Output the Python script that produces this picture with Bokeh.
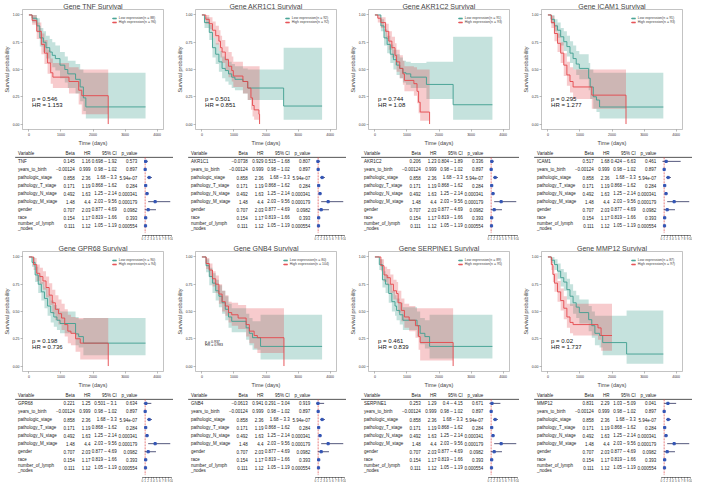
from bokeh.plotting import figure
from bokeh.layouts import row, column
from bokeh.models import (Range1d, Label, Legend, LegendItem, LinearAxis, FixedTicker,
                          ColumnDataSource, NumeralTickFormatter)
from bokeh.embed import file_html
from bokeh.resources import INLINE
from bokeh.core.properties import value

# ------------------------------------------------------------------ data
X_TICKS = [0, 1000, 2000, 3000, 4000]
Y_TICKS = [0, 0.25, 0.5, 0.75, 1.0]
FOREST_TICKS = [0, 1, 2, 3, 4, 5, 6, 7, 8, 9, 10]

GENES = ["TNF", "AKR1C1", "AKR1C2", "ICAM1", "GPR68", "GNB4", "SERPINE1", "MMP12"]
N_LOW = [88, 92, 91, 91, 90, 80, 89, 87]
N_HIGH = [96, 92, 93, 93, 94, 104, 95, 97]
LOGRANK_P = [0.546, 0.501, 0.744, 0.295, 0.198, 0.937, 0.461, 0.02]
KM_HR = [1.153, 0.851, 1.08, 1.277, 0.736, 0.983, 0.839, 1.737]

# Kaplan-Meier curves (time in days, survival, lower CI, upper CI)
TNF_LOW_T = [0, 100, 250, 340, 450, 534, 650, 728, 825, 970, 1120, 1214, 1456, 1600, 1700, 1777, 3640]
TNF_LOW_S = [1.0, 0.97, 0.9, 0.79, 0.75, 0.70, 0.66, 0.63, 0.60, 0.54, 0.50, 0.46, 0.41, 0.34, 0.24, 0.157, 0.157]
TNF_LOW_LO = [1.0, 0.93, 0.84, 0.71, 0.66, 0.60, 0.56, 0.52, 0.49, 0.42, 0.38, 0.33, 0.28, 0.21, 0.12, 0.05, 0.05]
TNF_LOW_HI = [1.0, 1.0, 0.97, 0.88, 0.85, 0.81, 0.78, 0.75, 0.72, 0.66, 0.62, 0.58, 0.55, 0.50, 0.47, 0.47, 0.47]
TNF_HIGH_T = [0, 100, 243, 388, 485, 583, 680, 748, 1250, 1553, 1650, 2475]
TNF_HIGH_S = [1.0, 0.95, 0.85, 0.73, 0.65, 0.56, 0.47, 0.43, 0.39, 0.31, 0.26, 0.0]
TNF_HIGH_LO = [1.0, 0.91, 0.78, 0.64, 0.55, 0.46, 0.37, 0.33, 0.28, 0.18, 0.09, 0.0]
TNF_HIGH_HI = [1.0, 1.0, 0.93, 0.83, 0.77, 0.68, 0.60, 0.56, 0.52, 0.50, 0.50, 0.0]

AKR1C1_LOW_T = [0, 80, 230, 330, 430, 530, 630, 730, 830, 930, 1030, 1280, 1430, 2550, 3750]
AKR1C1_LOW_S = [1.0, 0.93, 0.84, 0.70, 0.64, 0.57, 0.51, 0.49, 0.46, 0.43, 0.41, 0.39, 0.33, 0.165, 0.165]
AKR1C1_LOW_LO = [1.0, 0.88, 0.77, 0.61, 0.55, 0.48, 0.42, 0.39, 0.36, 0.33, 0.31, 0.28, 0.22, 0.04, 0.04]
AKR1C1_LOW_HI = [1.0, 0.98, 0.91, 0.79, 0.74, 0.67, 0.62, 0.60, 0.57, 0.55, 0.53, 0.51, 0.50, 0.70, 0.70]
AKR1C1_HIGH_T = [0, 120, 230, 330, 430, 530, 580, 630, 730, 830, 930, 980, 1280, 1430, 1530, 1580, 1630, 1780, 1800]
AKR1C1_HIGH_S = [1.0, 0.96, 0.92, 0.86, 0.81, 0.76, 0.70, 0.66, 0.59, 0.53, 0.49, 0.44, 0.39, 0.33, 0.24, 0.17, 0.13, 0.09, 0.0]
AKR1C1_HIGH_LO = [1.0, 0.92, 0.87, 0.79, 0.73, 0.67, 0.61, 0.56, 0.49, 0.43, 0.39, 0.34, 0.28, 0.22, 0.13, 0.07, 0.04, 0.02, 0.0]
AKR1C1_HIGH_HI = [1.0, 1.0, 0.98, 0.94, 0.90, 0.86, 0.81, 0.77, 0.71, 0.66, 0.62, 0.57, 0.53, 0.53, 0.53, 0.53, 0.53, 0.53, 0.0]

AKR1C2_LOW_T = [0, 186, 284, 382, 480, 578, 676, 775, 873, 970, 1118, 1608, 2441, 3667]
AKR1C2_LOW_S = [1.0, 0.90, 0.79, 0.73, 0.64, 0.59, 0.54, 0.51, 0.47, 0.46, 0.43, 0.363, 0.177, 0.177]
AKR1C2_LOW_LO = [1.0, 0.85, 0.72, 0.65, 0.56, 0.50, 0.45, 0.42, 0.38, 0.36, 0.33, 0.23, 0.04, 0.04]
AKR1C2_LOW_HI = [1.0, 0.96, 0.87, 0.81, 0.73, 0.68, 0.64, 0.61, 0.58, 0.57, 0.56, 0.57, 0.80, 0.80]
AKR1C2_HIGH_T = [0, 90, 186, 333, 431, 529, 627, 676, 775, 873, 921, 1216, 1314, 1363, 1412, 1706]
AKR1C2_HIGH_S = [1.0, 0.97, 0.93, 0.85, 0.76, 0.70, 0.63, 0.57, 0.51, 0.46, 0.40, 0.37, 0.30, 0.20, 0.11, 0.0]
AKR1C2_HIGH_LO = [1.0, 0.93, 0.88, 0.78, 0.68, 0.61, 0.54, 0.48, 0.42, 0.36, 0.30, 0.26, 0.19, 0.10, 0.03, 0.0]
AKR1C2_HIGH_HI = [1.0, 1.0, 0.98, 0.92, 0.85, 0.80, 0.74, 0.68, 0.63, 0.58, 0.53, 0.52, 0.50, 0.50, 0.50, 0.0]

ICAM1_LOW_T = [0, 100, 204, 300, 398, 495, 592, 689, 786, 883, 980, 1272, 1320, 1417, 1515, 1612, 3602]
ICAM1_LOW_S = [1.0, 0.96, 0.90, 0.86, 0.80, 0.755, 0.71, 0.65, 0.60, 0.55, 0.51, 0.42, 0.34, 0.25, 0.22, 0.156, 0.156]
ICAM1_LOW_LO = [1.0, 0.92, 0.85, 0.79, 0.72, 0.67, 0.62, 0.56, 0.50, 0.45, 0.41, 0.31, 0.23, 0.14, 0.11, 0.05, 0.05]
ICAM1_LOW_HI = [1.0, 1.0, 0.96, 0.93, 0.88, 0.85, 0.81, 0.76, 0.72, 0.67, 0.64, 0.56, 0.50, 0.47, 0.47, 0.47, 0.47]
ICAM1_HIGH_T = [0, 107, 204, 300, 398, 495, 592, 689, 786, 1369, 2437]
ICAM1_HIGH_S = [1.0, 0.93, 0.83, 0.74, 0.65, 0.54, 0.45, 0.39, 0.34, 0.265, 0.0]
ICAM1_HIGH_LO = [1.0, 0.88, 0.76, 0.66, 0.56, 0.44, 0.35, 0.29, 0.23, 0.14, 0.0]
ICAM1_HIGH_HI = [1.0, 0.99, 0.91, 0.83, 0.75, 0.65, 0.57, 0.52, 0.50, 0.50, 0.0]

GPR68_LOW_T = [0, 97, 194, 291, 388, 485, 583, 680, 777, 874, 971, 1456, 1553, 1700, 3640]
GPR68_LOW_S = [1.0, 0.95, 0.835, 0.75, 0.68, 0.62, 0.55, 0.49, 0.45, 0.42, 0.39, 0.295, 0.27, 0.21, 0.21]
GPR68_LOW_LO = [1.0, 0.91, 0.77, 0.67, 0.60, 0.53, 0.46, 0.40, 0.36, 0.33, 0.30, 0.19, 0.17, 0.10, 0.10]
GPR68_LOW_HI = [1.0, 1.0, 0.91, 0.83, 0.77, 0.72, 0.65, 0.60, 0.56, 0.53, 0.50, 0.45, 0.43, 0.44, 0.44]
GPR68_HIGH_T = [0, 146, 243, 340, 437, 534, 631, 728, 825, 922, 1019, 1117, 1214, 1311, 1456, 1602, 2476]
GPR68_HIGH_S = [1.0, 0.93, 0.85, 0.82, 0.78, 0.72, 0.65, 0.58, 0.52, 0.48, 0.44, 0.38, 0.32, 0.30, 0.25, 0.21, 0.0]
GPR68_HIGH_LO = [1.0, 0.88, 0.78, 0.75, 0.70, 0.63, 0.56, 0.48, 0.42, 0.38, 0.33, 0.27, 0.21, 0.19, 0.13, 0.06, 0.0]
GPR68_HIGH_HI = [1.0, 0.99, 0.93, 0.90, 0.87, 0.82, 0.76, 0.70, 0.65, 0.61, 0.57, 0.52, 0.47, 0.45, 0.44, 0.44, 0.0]

GNB4_LOW_T = [0, 130, 230, 330, 430, 530, 630, 730, 830, 930, 1380, 1480, 1580, 1830, 3750]
GNB4_LOW_S = [1.0, 0.92, 0.82, 0.76, 0.69, 0.64, 0.58, 0.52, 0.45, 0.41, 0.35, 0.30, 0.26, 0.18, 0.18]
GNB4_LOW_LO = [1.0, 0.86, 0.74, 0.67, 0.60, 0.54, 0.48, 0.42, 0.35, 0.31, 0.24, 0.19, 0.15, 0.06, 0.06]
GNB4_LOW_HI = [1.0, 0.98, 0.90, 0.85, 0.79, 0.74, 0.69, 0.64, 0.57, 0.53, 0.48, 0.44, 0.41, 0.47, 0.47]
GNB4_HIGH_T = [0, 130, 230, 330, 430, 530, 630, 730, 830, 930, 1130, 1380, 1480, 1630, 1730, 2560]
GNB4_HIGH_S = [1.0, 0.94, 0.88, 0.80, 0.75, 0.66, 0.59, 0.55, 0.49, 0.47, 0.44, 0.38, 0.32, 0.28, 0.26, 0.0]
GNB4_HIGH_LO = [1.0, 0.89, 0.82, 0.73, 0.67, 0.57, 0.50, 0.46, 0.40, 0.37, 0.34, 0.27, 0.21, 0.16, 0.12, 0.0]
GNB4_HIGH_HI = [1.0, 0.99, 0.94, 0.87, 0.83, 0.75, 0.69, 0.65, 0.59, 0.58, 0.56, 0.53, 0.53, 0.53, 0.53, 0.0]

SERPINE1_LOW_T = [0, 137, 235, 333, 431, 529, 627, 676, 775, 873, 1314, 1412, 1559, 1706, 3667]
SERPINE1_LOW_S = [1.0, 0.93, 0.79, 0.75, 0.665, 0.59, 0.55, 0.51, 0.47, 0.42, 0.37, 0.30, 0.27, 0.18, 0.18]
SERPINE1_LOW_LO = [1.0, 0.88, 0.72, 0.67, 0.58, 0.50, 0.46, 0.42, 0.38, 0.33, 0.27, 0.20, 0.16, 0.07, 0.07]
SERPINE1_LOW_HI = [1.0, 0.98, 0.87, 0.83, 0.75, 0.69, 0.65, 0.62, 0.58, 0.54, 0.50, 0.44, 0.42, 0.47, 0.47]
SERPINE1_HIGH_T = [0, 186, 284, 382, 480, 578, 676, 725, 824, 921, 1069, 1265, 1363, 1412, 2441]
SERPINE1_HIGH_S = [1.0, 0.92, 0.835, 0.81, 0.75, 0.69, 0.665, 0.58, 0.51, 0.45, 0.42, 0.37, 0.27, 0.216, 0.0]
SERPINE1_HIGH_LO = [1.0, 0.87, 0.77, 0.74, 0.67, 0.61, 0.58, 0.49, 0.41, 0.35, 0.32, 0.26, 0.15, 0.05, 0.0]
SERPINE1_HIGH_HI = [1.0, 0.98, 0.91, 0.89, 0.84, 0.79, 0.77, 0.69, 0.62, 0.57, 0.55, 0.53, 0.53, 0.53, 0.0]

MMP12_LOW_T = [0, 107, 204, 300, 398, 495, 592, 689, 786, 883, 980, 1272, 1369, 1466, 1612, 1709, 2456, 3602]
MMP12_LOW_S = [1.0, 0.97, 0.93, 0.87, 0.81, 0.77, 0.70, 0.64, 0.58, 0.54, 0.49, 0.425, 0.37, 0.30, 0.28, 0.215, 0.11, 0.11]
MMP12_LOW_LO = [1.0, 0.94, 0.88, 0.80, 0.73, 0.69, 0.61, 0.55, 0.48, 0.44, 0.39, 0.32, 0.26, 0.19, 0.17, 0.10, 0.02, 0.02]
MMP12_LOW_HI = [1.0, 1.0, 0.98, 0.94, 0.89, 0.86, 0.80, 0.75, 0.69, 0.65, 0.61, 0.55, 0.50, 0.46, 0.46, 0.46, 0.51, 0.51]
MMP12_HIGH_T = [0, 107, 155, 204, 300, 398, 495, 592, 689, 786, 1563, 1660, 2000]
MMP12_HIGH_S = [1.0, 0.93, 0.84, 0.76, 0.68, 0.60, 0.53, 0.45, 0.40, 0.38, 0.35, 0.28, 0.28]
MMP12_HIGH_LO = [1.0, 0.88, 0.77, 0.68, 0.59, 0.51, 0.43, 0.35, 0.30, 0.28, 0.24, 0.14, 0.14]
MMP12_HIGH_HI = [1.0, 0.99, 0.92, 0.85, 0.78, 0.71, 0.64, 0.57, 0.57, 0.57, 0.57, 0.57, 0.57]

# Cox regression tables
COV_NAMES = ["years_to_birth", "pathologic_stage", "pathology_T_stage", "pathology_N_stage",
             "pathology_M_stage", "gender", "race", "number_of_lymph\n_nodes"]
COV_BETA = [-0.00124, 0.858, 0.171, 0.492, 1.48, 0.707, 0.154, 0.111]
COV_HR = [0.999, 2.36, 1.19, 1.63, 4.4, 2.03, 1.17, 1.12]
COV_CI_LO = [0.98, 1.68, 0.868, 1.25, 2.03, 0.877, 0.819, 1.05]
COV_CI_HI = [1.02, 3.3, 1.62, 2.14, 9.56, 4.69, 1.66, 1.19]
COV_P = [0.897, 5.94e-07, 0.284, 0.000341, 0.000179, 0.0982, 0.393, 0.000554]
GENE_BETA = [0.145, -0.0738, 0.206, 0.517, 0.221, -0.0613, 0.253, 0.831]
GENE_HR = [1.16, 0.929, 1.23, 1.68, 1.25, 0.941, 1.29, 2.29]
GENE_CI_LO = [0.698, 0.515, 0.804, 0.424, 0.501, 0.291, 0.4, 1.03]
GENE_CI_HI = [1.92, 1.68, 1.89, 6.63, 3.1, 3.04, 4.15, 5.09]
GENE_P = [0.573, 0.807, 0.336, 0.461, 0.634, 0.919, 0.671, 0.041]

KM = {
    "TNF": ((TNF_LOW_T, TNF_LOW_S, TNF_LOW_LO, TNF_LOW_HI), (TNF_HIGH_T, TNF_HIGH_S, TNF_HIGH_LO, TNF_HIGH_HI)),
    "AKR1C1": ((AKR1C1_LOW_T, AKR1C1_LOW_S, AKR1C1_LOW_LO, AKR1C1_LOW_HI), (AKR1C1_HIGH_T, AKR1C1_HIGH_S, AKR1C1_HIGH_LO, AKR1C1_HIGH_HI)),
    "AKR1C2": ((AKR1C2_LOW_T, AKR1C2_LOW_S, AKR1C2_LOW_LO, AKR1C2_LOW_HI), (AKR1C2_HIGH_T, AKR1C2_HIGH_S, AKR1C2_HIGH_LO, AKR1C2_HIGH_HI)),
    "ICAM1": ((ICAM1_LOW_T, ICAM1_LOW_S, ICAM1_LOW_LO, ICAM1_LOW_HI), (ICAM1_HIGH_T, ICAM1_HIGH_S, ICAM1_HIGH_LO, ICAM1_HIGH_HI)),
    "GPR68": ((GPR68_LOW_T, GPR68_LOW_S, GPR68_LOW_LO, GPR68_LOW_HI), (GPR68_HIGH_T, GPR68_HIGH_S, GPR68_HIGH_LO, GPR68_HIGH_HI)),
    "GNB4": ((GNB4_LOW_T, GNB4_LOW_S, GNB4_LOW_LO, GNB4_LOW_HI), (GNB4_HIGH_T, GNB4_HIGH_S, GNB4_HIGH_LO, GNB4_HIGH_HI)),
    "SERPINE1": ((SERPINE1_LOW_T, SERPINE1_LOW_S, SERPINE1_LOW_LO, SERPINE1_LOW_HI), (SERPINE1_HIGH_T, SERPINE1_HIGH_S, SERPINE1_HIGH_LO, SERPINE1_HIGH_HI)),
    "MMP12": ((MMP12_LOW_T, MMP12_LOW_S, MMP12_LOW_LO, MMP12_LOW_HI), (MMP12_HIGH_T, MMP12_HIGH_S, MMP12_HIGH_LO, MMP12_HIGH_HI)),
}

# ------------------------------------------------------------------ style / layout
FONT = "Liberation Sans"
GREEN = "#3E9E90"
RED = "#E4464B"
W = 173
KM_H = 148
TB_H = 94
TABLE_W = 177.0          # table layout units (px of the original panel)
FOREST_X0 = 145.0        # where HR = 0 sits in table units
FOREST_PX = 3.0          # table units per HR unit


def fmt(v):
    s = repr(abs(v))
    return ("\u2212" + s) if v < 0 else s


def km_panel(i):
    g = GENES[i]
    p = figure(width=W, height=KM_H, x_range=Range1d(-200, 4200), y_range=Range1d(-0.05, 1.05),
               output_backend="svg", toolbar_location=None, frame_align=False,
               min_border_left=2, min_border_right=10, min_border_top=0, min_border_bottom=0,
               outline_line_color="#9a9a9a", outline_line_width=0.6)
    p.grid.visible = False
    p.title.text = f"Gene {g} Survival"
    p.title.align = "center"
    p.title.text_font = FONT
    p.title.text_font_size = "7px"
    p.title.text_font_style = "normal"
    p.title.standoff = 0
    p.title.offset = 0

    (lt, ls, llo, lhi), (ht, hs, hlo, hhi) = KM[g]
    b1 = p.varea_step(x=lt, y1=llo, y2=lhi, step_mode="after", fill_color=GREEN, fill_alpha=0.3)
    b2 = p.varea_step(x=ht, y1=hlo, y2=hhi, step_mode="after", fill_color=RED, fill_alpha=0.28)
    l1 = p.step(x=lt, y=ls, mode="after", line_color=GREEN, line_width=0.9)
    l2 = p.step(x=ht, y=hs, mode="after", line_color=RED, line_width=0.9)

    leg = Legend(items=[LegendItem(label=f"Low expression(n = {N_LOW[i]})", renderers=[b1, l1]),
                        LegendItem(label=f"High expression(n = {N_HIGH[i]})", renderers=[b2, l2])],
                 location="top_right", label_text_font=FONT, label_text_font_size="3.5px",
                 glyph_width=5, glyph_height=4, label_height=4, label_standoff=2,
                 spacing=0, padding=1, margin=7, border_line_color=None, background_fill_alpha=0)
    p.add_layout(leg)

    fs = "3.5px" if g == "GNB4" else "6px"
    ys = (0.225, 0.19) if g == "GNB4" else (0.23, 0.175)
    p.add_layout(Label(x=100, y=ys[0], text=f"p = {LOGRANK_P[i]}", text_font=FONT,
                       text_font_size=fs, text_baseline="middle", text_color="#111"))
    p.add_layout(Label(x=100, y=ys[1], text=f"HR = {KM_HR[i]}", text_font=FONT,
                       text_font_size=fs, text_baseline="middle", text_color="#111"))

    p.xaxis.ticker = FixedTicker(ticks=X_TICKS)
    p.yaxis.ticker = FixedTicker(ticks=Y_TICKS)
    p.yaxis.formatter = NumeralTickFormatter(format="0.00")
    p.xaxis.axis_label = "Time (days)"
    p.yaxis.axis_label = "Survival probability"
    for ax in p.axis:
        ax.major_label_text_font = FONT
        ax.major_label_text_font_size = "3.5px"
        ax.major_label_text_color = "#333333"
        ax.axis_label_text_font = FONT
        ax.axis_label_text_font_size = "5.5px"
        ax.axis_label_text_font_style = "normal"
        ax.axis_line_color = None
        ax.major_tick_line_color = "#777777"
        ax.major_tick_line_width = 0.5
        ax.major_tick_out = 2
        ax.major_tick_in = 0
        ax.minor_tick_line_color = None
        ax.major_label_standoff = 1
        ax.axis_label_standoff = 1
    p.yaxis.axis_label_standoff = 0
    return p


def table_panel(i):
    p = figure(width=W, height=TB_H, x_range=Range1d(0, TABLE_W), y_range=Range1d(10.2, -0.6),
               x_axis_type=None, y_axis_type=None, output_backend="svg", toolbar_location=None,
               frame_align=False, min_border=0, outline_line_color=None)
    p.grid.visible = False
    p.extra_x_ranges = {"hr": Range1d(-FOREST_X0 / FOREST_PX, (TABLE_W - FOREST_X0) / FOREST_PX)}

    beta = [GENE_BETA[i]] + COV_BETA
    hr = [GENE_HR[i]] + COV_HR
    lo = [GENE_CI_LO[i]] + COV_CI_LO
    hi = [GENE_CI_HI[i]] + COV_CI_HI
    pv = [GENE_P[i]] + COV_P
    src = ColumnDataSource(dict(
        r=list(range(1, 10)),
        name=[GENES[i]] + COV_NAMES,
        beta=[fmt(v) for v in beta],
        hrt=[fmt(v) for v in hr],
        ci=[f"{fmt(a)} \u2013 {fmt(b)}" for a, b in zip(lo, hi)],
        pv=[fmt(v) for v in pv],
        hr=hr, lo=lo, hi=hi))

    tkw = dict(text_baseline="middle", text_font=value(FONT), text_font_size="4.5px",
               text_color="#222222", text_line_height=1.05)
    cols = [(18, "name", "left", "Variable"), (76, "beta", "right", "Beta"), (92, "hrt", "right", "HR"),
            (119, "ci", "right", "95% CI"), (140, "pv", "right", "p_value")]
    for x, field, align, head in cols:
        p.text(x=x, y="r", text=field, source=src, text_align=align, **tkw)
        p.text(x=[x], y=[0], text=[head], text_align=align, **tkw)

    p.segment(x0=[15], y0=[0.5], x1=[TABLE_W], y1=[0.5], line_color="#555555", line_width=1)
    p.segment(x0=[1], x1=[1], y0=[0.5], y1=[9.9], x_range_name="hr",
              line_color="#E04848", line_width=0.7, line_dash="2 1")
    p.segment(x0="lo", x1="hi", y0="r", y1="r", source=src, x_range_name="hr",
              line_color="#2A2F5C", line_width=0.8)
    p.scatter(x="hr", y="r", source=src, x_range_name="hr", marker="square", size=2.2,
              fill_color="#3355B5", line_color="#3355B5")

    fax = LinearAxis(x_range_name="hr", ticker=FixedTicker(ticks=FOREST_TICKS), bounds=(0, 10))
    fax.major_label_text_font = FONT
    fax.major_label_text_font_size = "3px"
    fax.major_label_standoff = 0
    fax.major_tick_out = 1
    fax.major_tick_in = 0
    fax.minor_tick_line_color = None
    fax.axis_line_width = 0.5
    fax.major_tick_line_width = 0.5
    p.add_layout(fax, "below")
    return p


rows = []
for r0 in (0, 4):
    rows.append(row(*[column(km_panel(i), table_panel(i)) for i in range(r0, r0 + 4)]))
layout = column(*rows)

open("out.html", "w").write(file_html(layout, INLINE))
